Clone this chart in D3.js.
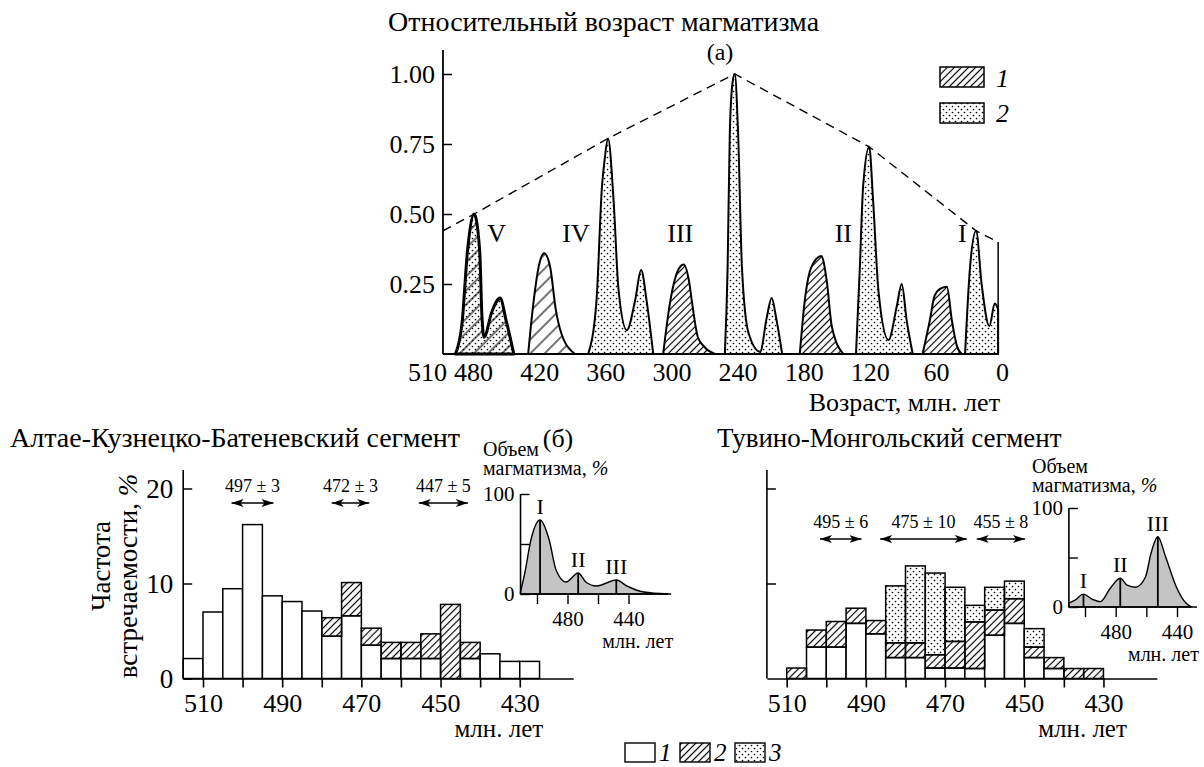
<!DOCTYPE html>
<html>
<head>
<meta charset="utf-8">
<script src="https://cdn.jsdelivr.net/npm/d3@7"></script>
<style>
  body { margin: 0; background: #fff; }
  svg { display: block; }
  text { font-family: "Liberation Serif", "DejaVu Serif", serif; fill: #000; }
</style>
</head>
<body>
<svg id="chart" width="1204" height="767"></svg>
<script>
// ---------- panel (а): relative age of magmatism, [age Ma, relative value] ----------
const topTicksX = [510, 480, 420, 360, 300, 240, 180, 120, 60, 0];
const topTicksY = [0.25, 0.5, 0.75, 1.0];
const peakV   = [[496,0],[490,0.11],[485,0.37],[479,0.5],[474,0.37],[472,0.14],[470,0.06],[463,0.15],[455.5,0.2],[450,0.12],[443,0]];
const peakIV  = [[430,0],[425,0.19],[420,0.32],[415.5,0.36],[410,0.31],[405,0.16],[400,0.075],[387.5,0]];
const peak360 = [[375.5,0],[368,0.19],[363,0.6],[361,0.68],[357.5,0.77],[352.5,0.55],[348,0.23],[340.5,0.085],[333,0.19],[327.5,0.3],[322.5,0.19],[316.5,0]];
const peak300 = [[307.5,0],[301,0.19],[295,0.29],[289,0.32],[284,0.26],[281.5,0.19],[276,0.06],[270,0.025],[260.5,0]];
const peak240 = [[251.5,0],[249,0.31],[247,0.79],[244.5,0.97],[242.5,1.0],[239.5,0.79],[236,0.31],[230,0.075],[219.5,0.008],[213.5,0.13],[209,0.2],[205,0.13],[199.5,0]];
const peak180 = [[183.5,0],[179,0.19],[173,0.31],[164,0.35],[159,0.26],[154.5,0.1],[144,0]];
const peak120 = [[132.5,0],[129,0.31],[126,0.6],[120.5,0.74],[117,0.55],[112,0.22],[103,0.05],[95.5,0.17],[91,0.25],[86.5,0.12],[81,0]];
const peak60  = [[72,0],[65.5,0.12],[61,0.21],[55,0.235],[50,0.24],[45.5,0.12],[41,0.03],[36.5,0]];
const peak20  = [[33.5,0],[29,0.31],[23.5,0.44],[18.5,0.25],[11.5,0.1],[6.5,0.18],[3.5,0.16]];
const envelope = [[507.3,0.44],[479,0.5],[357.5,0.77],[242.5,1.0],[120.5,0.74],[23.5,0.44],[3.5,0.4]];
const romanTop = ["V", "IV", "III", "II", "I"];
const romanTopAge = [458.5, 386.5, 292, 144, 36];

// ---------- panel (б): histograms, bins of 5 Ma given by their older edge ----------
const binStart  = [515,510,505,500,495,490,485,480,475,470,465,460,455,450,445,440,435,430];
const leftWhite = [2.1,7.0,9.45,16.2,8.7,8.1,7.1,4.45,6.6,3.5,2.1,2.1,2.1,0,2.1,2.6,1.8,1.8];
const leftHatch = [0,0,0,0,0,0,0,1.95,3.5,1.8,1.7,1.7,2.6,7.8,1.7,0,0,0];
const rightWhite = [0,0,3.3,3.3,5.8,4.7,2.2,2.2,1.1,1.1,1.05,4.55,5.8,2.2,1.05,0,0,0];
const rightHatch = [0,1.1,1.8,2.7,1.6,1.4,1.55,1.55,1.4,2.8,4.9,2.65,2.6,1.1,1.15,1.05,1.05,0];
const rightDots  = [0,0,0,0,0,0,6.0,8.1,8.6,5.7,1.75,2.4,1.85,1.95,0,0,0,0];
const histTicks = [510,500,490,480,470,460,450,440,430];
const histLabels = [510,490,470,450,430];
const histTicksY = [10, 20];
const leftArrows = [[502.8,492.2],[477.5,468],[455.5,443.1]];
const leftArrowText = ["497 ± 3", "472 ± 3", "447 ± 5"];
const rightArrows = [[501.6,491.1],[486.4,464.5],[462,449.8]];
const rightArrowText = ["495 ± 6", "475 ± 10", "455 ± 8"];

// ---------- insets: volume of magmatism, [age Ma, %] ----------
const insetTicks = [500, 480, 460, 440];
const insetLabels = [480, 440];
const leftInset  = [[510.8,2],[508,21],[504,54],[498,74],[492,54],[487.5,24],[481,12],[473,21],[468,12],[461,8],[448,14],[441,8],[430,2],[414,0]];
const leftInsetPeaks = [[498,74],[473,21],[448,14]];
const rightInset = [[510.5,4],[506.5,7],[501,13],[495.5,8],[490,5.4],[483.5,19],[477,29],[472.5,22],[467,20],[460.5,30.5],[457,54],[452.5,71],[447.5,51],[440.5,20.5],[434,3.7],[430.5,0]];
const rightInsetPeaks = [[501,13],[477,29],[452.5,71]];
const insetRoman = ["I", "II", "III"];

const svg = d3.select("#chart");
svg.append("rect").attr("width", 1204).attr("height", 767).attr("fill", "#fff");
const defs = svg.append("defs");

function hatch(id, step, sw) {
  const p = defs.append("pattern").attr("id", id).attr("patternUnits", "userSpaceOnUse")
    .attr("width", step).attr("height", step).attr("patternTransform", "rotate(45)");
  p.append("line").attr("x1", step / 2).attr("y1", 0).attr("x2", step / 2).attr("y2", step)
    .attr("stroke", "#000").attr("stroke-width", sw);
}
hatch("hatch", 5, 1.2);
hatch("hatchWide", 10, 1.1);
const dp = defs.append("pattern").attr("id", "dots").attr("patternUnits", "userSpaceOnUse")
  .attr("width", 6).attr("height", 6);
dp.append("circle").attr("cx", 1.5).attr("cy", 1.5).attr("r", 0.85).attr("fill", "#000");
dp.append("circle").attr("cx", 4.5).attr("cy", 4.5).attr("r", 0.85).attr("fill", "#000");

defs.append("marker").attr("id", "arr").attr("viewBox", "0 0 12 8")
  .attr("refX", 12).attr("refY", 4).attr("markerWidth", 12).attr("markerHeight", 8)
  .attr("markerUnits", "userSpaceOnUse").attr("orient", "auto-start-reverse")
  .append("path").attr("d", "M0,0 L12,4 L0,8 L3,4 Z").attr("fill", "#000");

const serif = '"Liberation Serif", "DejaVu Serif", serif';

// ====================== panel (а) ======================
const xT = d3.scaleLinear().domain([510, 0]).range([440, 1002]);
const yT = d3.scaleLinear().domain([0, 1]).range([354, 74]);
const axisLeftX = xT(envelope[0][0]);
const lastAge = envelope[envelope.length - 1][0];

svg.append("text").attr("x", 388).attr("y", 31).attr("font-size", 28)
  .text("Относительный возраст магматизма");
svg.append("text").attr("x", 720).attr("y", 60).attr("font-size", 24)
  .attr("text-anchor", "middle").text("(а)");

const area = d3.area().x(d => xT(d[0])).y0(yT(0)).y1(d => yT(d[1])).curve(d3.curveMonotoneX);
const topBlobs = [
  { pts: peakV, fills: ["dots", "hatchWide"], sw: 3 },
  { pts: peakIV, fills: ["hatchWide"], sw: 2 },
  { pts: peak360, fills: ["dots"], sw: 2 },
  { pts: peak300, fills: ["hatch"], sw: 2 },
  { pts: peak240, fills: ["dots"], sw: 2 },
  { pts: peak180, fills: ["hatch"], sw: 2 },
  { pts: peak120, fills: ["dots"], sw: 2 },
  { pts: peak60, fills: ["hatch"], sw: 2 },
  { pts: peak20, fills: ["dots"], sw: 2 }
];
topBlobs.forEach(b => {
  b.fills.forEach(f => svg.append("path").attr("d", area(b.pts)).attr("fill", `url(#${f})`));
  svg.append("path").attr("d", area(b.pts)).attr("fill", "none")
    .attr("stroke", "#000").attr("stroke-width", b.sw).attr("stroke-linejoin", "round");
});

// dashed envelope and right border
svg.append("path")
  .attr("d", d3.line().x(d => xT(d[0])).y(d => yT(d[1]))(envelope))
  .attr("fill", "none").attr("stroke", "#000").attr("stroke-width", 1.4).attr("stroke-dasharray", "9,6");
svg.append("line").attr("x1", xT(lastAge)).attr("x2", xT(lastAge))
  .attr("y1", yT(envelope[envelope.length - 1][1])).attr("y2", yT(0))
  .attr("stroke", "#000").attr("stroke-width", 1.5);

// axes
svg.append("line").attr("x1", axisLeftX).attr("x2", xT(lastAge)).attr("y1", yT(0)).attr("y2", yT(0))
  .attr("stroke", "#000").attr("stroke-width", 1.8);
svg.append("line").attr("x1", axisLeftX).attr("x2", axisLeftX).attr("y1", 50).attr("y2", yT(0))
  .attr("stroke", "#000").attr("stroke-width", 1.8);
const gyT = svg.append("g").attr("transform", `translate(${axisLeftX},0)`)
  .call(d3.axisLeft(yT).tickValues(topTicksY).tickFormat(d3.format(".2f"))
    .tickSizeInner(-9).tickSizeOuter(0).tickPadding(8));
gyT.select(".domain").remove();
gyT.attr("font-size", 26).attr("font-family", serif);
gyT.selectAll("line").attr("stroke-width", 1.5);

const gxT = svg.append("g").attr("transform", `translate(0,${yT(0)})`)
  .call(d3.axisBottom(xT).tickValues(topTicksX).tickFormat(d => d).tickSize(0).tickPadding(9));
gxT.select(".domain").remove();
gxT.attr("font-size", 26).attr("font-family", serif);
gxT.selectAll(".tick text").attr("dx", d => d === 510 ? -13 : 0);

svg.append("text").attr("x", 1000).attr("y", 411).attr("font-size", 26)
  .attr("text-anchor", "end").text("Возраст, млн. лет");

svg.selectAll(".romanTop").data(romanTop).join("text").attr("class", "romanTop")
  .attr("x", (d, i) => xT(romanTopAge[i])).attr("y", yT(0.4))
  .attr("text-anchor", "middle").attr("font-size", 26).text(d => d);

// legend of panel (а)
[["hatch", "1", 67, 87], ["dots", "2", 103, 122]].forEach(([f, t, y, by]) => {
  svg.append("rect").attr("x", 940).attr("y", y).attr("width", 44).attr("height", 20)
    .attr("fill", `url(#${f})`).attr("stroke", "#000").attr("stroke-width", 1.5);
  svg.append("text").attr("x", 996).attr("y", by).attr("font-size", 26)
    .attr("font-style", "italic").text(t);
});

// ====================== panel (б) ======================
svg.append("text").attr("x", 10).attr("y", 447).attr("font-size", 28)
  .text("Алтае-Кузнецко-Батеневский сегмент");
svg.append("text").attr("x", 558).attr("y", 447).attr("font-size", 26)
  .attr("text-anchor", "middle").text("(б)");
svg.append("text").attr("x", 717).attr("y", 447).attr("font-size", 27)
  .text("Тувино-Монгольский сегмент");

const fillOf = { w: "#fff", h: "url(#hatch)", d: "url(#dots)" };

function histogram(opts) {
  const x = d3.scaleLinear().domain([515, 416.5]).range([opts.x0, opts.x0 + 390]);
  const y = d3.scaleLinear().domain([0, 20]).range([678.5, 488.5]);
  const rows = binStart.map((b, i) => ({ bin: b, w: opts.w[i], h: opts.h[i], d: opts.d ? opts.d[i] : 0 }));
  const series = d3.stack().keys(["w", "h", "d"])(rows);
  const g = svg.append("g");
  series.forEach(s => {
    g.selectAll(null).data(s.filter(v => v[1] - v[0] > 0)).join("rect")
      .attr("x", v => x(v.data.bin)).attr("width", v => x(v.data.bin - 5) - x(v.data.bin))
      .attr("y", v => y(v[1])).attr("height", v => y(v[0]) - y(v[1]))
      .attr("fill", fillOf[s.key]).attr("stroke", "#000").attr("stroke-width", 1.5);
  });
  // x axis
  const gx = svg.append("g").attr("transform", `translate(0,${y(0)})`)
    .call(d3.axisBottom(x).tickValues(histTicks).tickSizeInner(9).tickSizeOuter(0).tickPadding(6)
      .tickFormat(d => histLabels.includes(d) ? d : ""));
  gx.attr("font-size", 26).attr("font-family", serif);
  gx.selectAll("line, path").attr("stroke-width", 1.6);
  // y axis
  svg.append("line").attr("x1", x(515)).attr("x2", x(515)).attr("y1", 470).attr("y2", y(0))
    .attr("stroke", "#000").attr("stroke-width", 1.6);
  const gy = svg.append("g").attr("transform", `translate(${x(515)},0)`)
    .call(d3.axisLeft(y).tickValues(opts.yLabels ? [0, 10, 20] : histTicksY).tickSizeInner(-9)
      .tickSizeOuter(0).tickPadding(10).tickFormat(d => opts.yLabels ? d : ""));
  gy.select(".domain").remove();
  gy.attr("font-size", 27).attr("font-family", serif);
  gy.selectAll("line").attr("stroke-width", 1.5);
  // arrows
  opts.arrows.forEach((a, i) => {
    svg.append("line").attr("x1", x(a[0])).attr("x2", x(a[1])).attr("y1", opts.arrowY).attr("y2", opts.arrowY)
      .attr("stroke", "#000").attr("stroke-width", 1.4)
      .attr("marker-start", "url(#arr)").attr("marker-end", "url(#arr)");
    svg.append("text").attr("x", (x(a[0]) + x(a[1])) / 2).attr("y", opts.arrowY - 11)
      .attr("text-anchor", "middle").attr("font-size", 18).text(opts.arrowText[i]);
  });
  svg.append("text").attr("x", opts.x0 + 360).attr("y", 737).attr("font-size", 25)
    .attr("text-anchor", "end").text("млн. лет");
}

histogram({ x0: 183.2, w: leftWhite, h: leftHatch, yLabels: true,
  arrows: leftArrows, arrowText: leftArrowText, arrowY: 503 });
histogram({ x0: 766.9, w: rightWhite, h: rightHatch, d: rightDots, yLabels: false,
  arrows: rightArrows, arrowText: rightArrowText, arrowY: 539 });

// y title of the left histogram
svg.append("text").attr("transform", "translate(110,566) rotate(-90)")
  .attr("text-anchor", "middle").attr("font-size", 27).text("Частота");
const yt2 = svg.append("text").attr("transform", "translate(137,576) rotate(-90)")
  .attr("text-anchor", "middle").attr("font-size", 27);
yt2.append("tspan").text("встречаемости, ");
yt2.append("tspan").attr("font-style", "italic").text("%");

// ---------- insets ----------
function inset(opts) {
  const x = d3.scaleLinear().domain([500, 440]).range(opts.xr);
  const y = d3.scaleLinear().domain([0, 100]).range(opts.yr);
  const ar = d3.area().x(d => x(d[0])).y0(y(0)).y1(d => y(d[1])).curve(d3.curveMonotoneX);
  svg.append("path").attr("d", ar(opts.pts)).attr("fill", "#c4c4c4")
    .attr("stroke", "#000").attr("stroke-width", 1.4);
  svg.selectAll(null).data(opts.peaks).join("line")
    .attr("x1", d => x(d[0])).attr("x2", d => x(d[0])).attr("y1", y(0)).attr("y2", d => y(d[1]))
    .attr("stroke", "#000").attr("stroke-width", 1.8);
  svg.selectAll(null).data(opts.peaks).join("text")
    .attr("x", d => x(d[0])).attr("y", d => y(d[1]) - 6).attr("text-anchor", "middle")
    .attr("font-size", 22).text((d, i) => insetRoman[i]);
  const x0 = x(opts.pts[0][0]);
  svg.append("line").attr("x1", x0).attr("x2", x(opts.endAge)).attr("y1", y(0)).attr("y2", y(0))
    .attr("stroke", "#000").attr("stroke-width", 1.6);
  svg.append("line").attr("x1", x0).attr("x2", x0).attr("y1", y(100)).attr("y2", y(0))
    .attr("stroke", "#000").attr("stroke-width", 1.6);
  const gx = svg.append("g").attr("transform", `translate(0,${y(0)})`)
    .call(d3.axisBottom(x).tickValues(insetTicks).tickSizeInner(10).tickSizeOuter(0).tickPadding(7)
      .tickFormat(d => insetLabels.includes(d) ? d : ""));
  gx.select(".domain").remove();
  gx.attr("font-size", 21).attr("font-family", serif);
  gx.selectAll("line").attr("stroke-width", 1.4);
  const gy = svg.append("g").attr("transform", `translate(${x0},0)`)
    .call(d3.axisLeft(y).tickValues([0, 50, 100]).tickSizeInner(-9).tickSizeOuter(0).tickPadding(6)
      .tickFormat(d => d === 50 ? "" : d));
  gy.select(".domain").remove();
  gy.attr("font-size", 21).attr("font-family", serif);
  gy.selectAll("line").attr("stroke-width", 1.4);
  svg.append("text").attr("x", opts.tx).attr("y", opts.ty).attr("font-size", 20).text("Объем");
  const t2 = svg.append("text").attr("x", opts.tx).attr("y", opts.ty + 19).attr("font-size", 20);
  t2.append("tspan").text("магматизма, ");
  t2.append("tspan").attr("font-style", "italic").text("%");
  svg.append("text").attr("x", x(opts.endAge) + 2).attr("y", y(0) + 54).attr("font-size", 20)
    .attr("text-anchor", "end").text("млн. лет");
}

inset({ xr: [537, 628.5], yr: [594, 494], pts: leftInset, peaks: leftInsetPeaks, endAge: 412, tx: 483, ty: 456 });
inset({ xr: [1085, 1177], yr: [607, 508], pts: rightInset, peaks: rightInsetPeaks, endAge: 427, tx: 1032, ty: 473 });

// ---------- common legend ----------
[["#fff", "1", 625], ["url(#hatch)", "2", 680], ["url(#dots)", "3", 735]].forEach(([f, t, x]) => {
  svg.append("rect").attr("x", x).attr("y", 743).attr("width", 30).attr("height", 19)
    .attr("fill", f).attr("stroke", "#000").attr("stroke-width", 1.4);
  svg.append("text").attr("x", x + 34).attr("y", 761).attr("font-size", 25)
    .attr("font-style", "italic").text(t);
});
</script>
</body>
</html>
